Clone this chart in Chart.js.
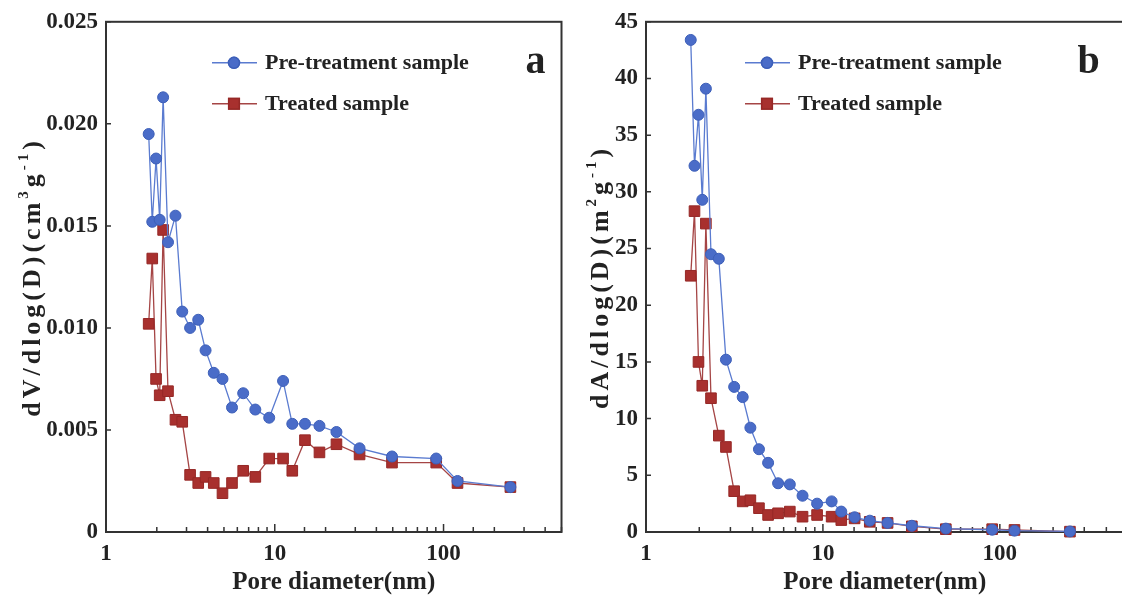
<!DOCTYPE html>
<html>
<head>
<meta charset="utf-8">
<title>Pore size distribution</title>
<script src="https://cdn.jsdelivr.net/npm/chart.js@4.4.0/dist/chart.umd.min.js"></script>
<style>
  html, body { margin: 0; padding: 0; background: #fff; }
  body { width: 1122px; height: 603px; position: relative; overflow: hidden; }
  .panel { position: absolute; top: 0; height: 603px; }
  #panel-a { left: 0; width: 570px; }
  #panel-b { left: 566px; width: 566px; }
</style>
</head>
<body>
<div class="panel" id="panel-a"><canvas id="volume-chart"></canvas></div>
<div class="panel" id="panel-b"><canvas id="area-chart"></canvas></div>
<script>
// pore diameters (nm), shared by all four series
var poreDiameter = [1.79, 1.88, 1.98, 2.08, 2.18, 2.33, 2.58, 2.83, 3.15, 3.52, 3.89, 4.35, 4.9, 5.58,
  6.5, 7.67, 9.27, 11.2, 12.7, 15.1, 18.4, 23.2, 31.8, 49.5, 90.5, 121, 249];

// dV/dlog(D), cm3/g
var preVolume = [0.0195, 0.0152, 0.0183, 0.0153, 0.0213, 0.0142, 0.0155, 0.0108, 0.0100, 0.0104, 0.0089,
  0.0078, 0.0075, 0.0061, 0.0068, 0.0060, 0.0056, 0.0074, 0.0053, 0.0053, 0.0052, 0.0049, 0.0041,
  0.0037, 0.0036, 0.0025, 0.0022];
var treatedVolume = [0.0102, 0.0134, 0.0075, 0.0067, 0.0148, 0.0069, 0.0055, 0.0054, 0.0028, 0.0024, 0.0027,
  0.0024, 0.0019, 0.0024, 0.0030, 0.0027, 0.0036, 0.0036, 0.0030, 0.0045, 0.0039, 0.0043, 0.0038,
  0.0034, 0.0034, 0.0024, 0.0022];

// dA/dlog(D), m2/g
var preArea = [43.4, 32.3, 36.8, 29.3, 39.1, 24.5, 24.1, 15.2, 12.8, 11.9, 9.2, 7.3, 6.1, 4.3, 4.2, 3.2,
  2.5, 2.7, 1.8, 1.3, 1.0, 0.8, 0.55, 0.3, 0.2, 0.12, 0.05];
var treatedArea = [22.6, 28.3, 15.0, 12.9, 27.2, 11.8, 8.5, 7.5, 3.6, 2.7, 2.8, 2.1, 1.5, 1.65, 1.8, 1.35,
  1.5, 1.35, 1.05, 1.2, 0.9, 0.8, 0.5, 0.25, 0.25, 0.18, 0.03];

var seriesNames = ['Pre-treatment sample', 'Treated sample'];
var xTickLabels = [1, 10, 100];

var FONT = "'Liberation Serif', 'Times New Roman', serif";
var INK = '#222';
var BLUE = '#4a6cc8', BLUE_LINE = '#5a7bd0';
var RED = '#a8302e', RED_LINE = '#a54545';

function points(ys) {
  return poreDiameter.map(function (d, i) { return { x: d, y: ys[i] }; });
}

// title pieces: [text, isSuperscript]
function drawRichText(ctx, parts) {
  var big = 'bold 26px ' + FONT, small = 'bold 15px ' + FONT;
  var total = 0;
  parts.forEach(function (p) {
    ctx.font = p[1] ? small : big;
    total += ctx.measureText(p[0]).width;
  });
  var cx = -total / 2;
  parts.forEach(function (p) {
    ctx.font = p[1] ? small : big;
    ctx.fillText(p[0], cx, p[1] ? -9 : 0);
    cx += ctx.measureText(p[0]).width;
  });
}

// box, inward ticks, legend, y title and panel letter
var panelFrame = {
  id: 'panelFrame',
  beforeDatasetsDraw: function (chart) {
    var ctx = chart.ctx, a = chart.chartArea, x = chart.scales.x, y = chart.scales.y;
    ctx.save();
    ctx.strokeStyle = '#333';
    ctx.lineWidth = 2;
    ctx.strokeRect(a.left, a.top, a.right - a.left, a.bottom - a.top);
    ctx.lineWidth = 1.5;
    ctx.beginPath();
    x.ticks.forEach(function (t) {
      var lg = Math.log10(t.value);
      var len = Math.abs(lg - Math.round(lg)) < 1e-9 ? 8 : 5;
      var px = x.getPixelForValue(t.value);
      ctx.moveTo(px, a.bottom);
      ctx.lineTo(px, a.bottom - len);
    });
    y.ticks.forEach(function (t) {
      var py = y.getPixelForValue(t.value);
      ctx.moveTo(a.left, py);
      ctx.lineTo(a.left + 5, py);
    });
    ctx.stroke();
    ctx.restore();
  },
  afterDraw: function (chart, args, opts) {
    var ctx = chart.ctx, a = chart.chartArea;
    ctx.save();

    // rotated y title, spaced out
    ctx.fillStyle = INK;
    ctx.letterSpacing = '4px';
    ctx.textAlign = 'left';
    ctx.textBaseline = 'middle';
    ctx.translate(opts.titleX, (a.top + a.bottom) / 2);
    ctx.rotate(-Math.PI / 2);
    drawRichText(ctx, opts.title);
    ctx.setTransform(1, 0, 0, 1, 0, 0);
    ctx.letterSpacing = '0px';

    // legend inside the plot
    chart.data.datasets.forEach(function (ds, i) {
      var lx = a.left + opts.legendX;
      var ly = a.top + 41 + i * 41;
      ctx.strokeStyle = ds.borderColor;
      ctx.lineWidth = 1.5;
      ctx.beginPath();
      ctx.moveTo(lx, ly);
      ctx.lineTo(lx + 45, ly);
      ctx.stroke();
      Chart.helpers.drawPoint(ctx, {
        pointStyle: ds.pointStyle, radius: ds.pointRadius, borderWidth: 1, rotation: 0
      }, lx + 22, ly);
      ctx.fillStyle = ds.pointBackgroundColor;
      ctx.strokeStyle = ds.pointBorderColor;
      ctx.fill();
      ctx.stroke();
      ctx.fillStyle = INK;
      ctx.font = 'bold 22px ' + FONT;
      ctx.textAlign = 'left';
      ctx.textBaseline = 'middle';
      ctx.fillText(ds.label, lx + 53, ly + 1);
    });

    // panel letter
    ctx.font = 'bold 40px ' + FONT;
    ctx.textAlign = 'center';
    ctx.textBaseline = 'middle';
    ctx.fillText(opts.letter, a.right - opts.letterDX, a.top + 41);
    ctx.restore();
  }
};

function makeChart(canvasId, blueData, redData, yCfg, frame, axisWidth, padRight) {
  return new Chart(document.getElementById(canvasId), {
    type: 'line',
    data: {
      datasets: [{
        label: seriesNames[0],
        data: points(blueData),
        borderColor: BLUE_LINE,
        borderWidth: 1.3,
        pointStyle: 'circle',
        pointRadius: 5.5,
        pointBackgroundColor: BLUE,
        pointBorderColor: '#3d5fb8',
        pointBorderWidth: 1,
        clip: false
      }, {
        label: seriesNames[1],
        data: points(redData),
        borderColor: RED_LINE,
        borderWidth: 1.3,
        pointStyle: 'rect',
        pointRadius: 7.5,
        pointBackgroundColor: RED,
        pointBorderColor: '#962826',
        pointBorderWidth: 1,
        clip: false
      }]
    },
    options: {
      responsive: true,
      maintainAspectRatio: false,
      animation: false,
      devicePixelRatio: 1,
      layout: { padding: { top: 21, right: padRight, left: 0, bottom: 0 } },
      plugins: {
        legend: { display: false },
        tooltip: { enabled: false },
        panelFrame: frame
      },
      scales: {
        x: {
          type: 'logarithmic',
          min: 1,
          max: 500,
          grid: { display: false, drawTicks: false },
          border: { display: false },
          ticks: {
            autoSkip: false,
            maxRotation: 0,
            padding: 8,
            color: INK,
            font: { family: FONT, size: 23, weight: 'bold' },
            callback: function (v) { return xTickLabels.indexOf(v) >= 0 ? String(v) : ''; }
          },
          title: {
            display: true,
            text: 'Pore diameter(nm)',
            color: INK,
            font: { family: FONT, size: 25, weight: 'bold' },
            padding: { top: 0, bottom: 5 }
          },
          afterFit: function (s) { s.height = 71; }
        },
        y: {
          min: yCfg.min,
          max: yCfg.max,
          grid: { display: false, drawTicks: false },
          border: { display: false },
          ticks: {
            stepSize: yCfg.step,
            padding: 8,
            color: INK,
            font: { family: FONT, size: 23, weight: 'bold' },
            callback: yCfg.format
          },
          afterFit: function (s) { s.width = axisWidth; }
        }
      }
    },
    plugins: [panelFrame]
  });
}

makeChart('volume-chart', preVolume, treatedVolume,
  { min: 0, max: 0.025, step: 0.005, format: function (v) { return v === 0 ? '0' : v.toFixed(3); } },
  {
    title: [['dV/dlog(D)(cm', false], ['3', true], ['g', false], ['-1', true], [')', false]],
    titleX: 33, legendX: 106, letter: 'a', letterDX: 26
  },
  106, 7);

makeChart('area-chart', preArea, treatedArea,
  { min: 0, max: 45, step: 5, format: function (v) { return String(Math.round(v)); } },
  {
    title: [['dA/dlog(D)(m', false], ['2', true], ['g', false], ['-1', true], [')', false]],
    titleX: 35, legendX: 99, letter: 'b', letterDX: 35
  },
  80, 8);
</script>
</body>
</html>
